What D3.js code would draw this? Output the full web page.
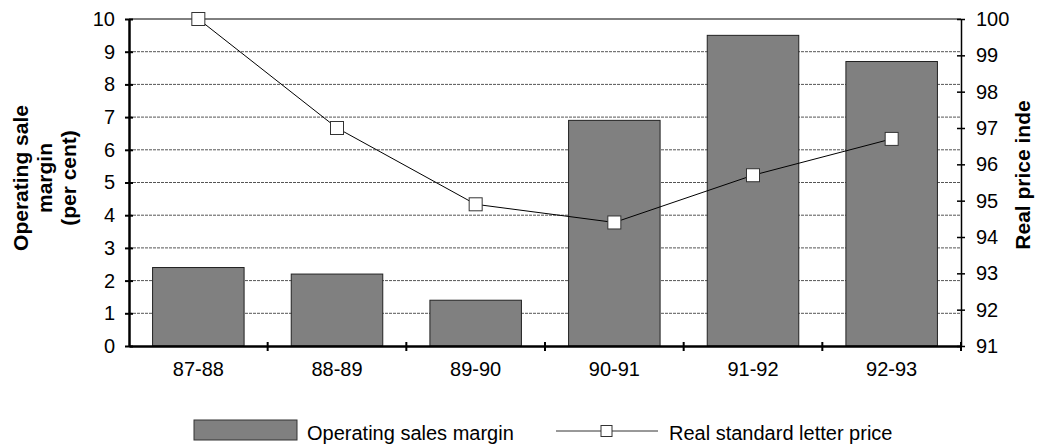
<!DOCTYPE html>
<html>
<head>
<meta charset="utf-8">
<script src="https://cdn.jsdelivr.net/npm/d3@7"></script>
<style>
  body { margin: 0; background: #fff; }
  svg { font-family: "Liberation Sans", Arial, sans-serif; }
</style>
</head>
<body>
<svg id="chart" width="1043" height="448"></svg>
<script>
// data
const years = ["87-88", "88-89", "89-90", "90-91", "91-92", "92-93"];
const margin = [2.4, 2.2, 1.4, 6.9, 9.5, 8.7];
const letterPrice = [100, 97, 94.9, 94.4, 95.7, 96.7];
const leftTicks = [0, 1, 2, 3, 4, 5, 6, 7, 8, 9, 10];
const rightTicks = [91, 92, 93, 94, 95, 96, 97, 98, 99, 100];

const svg = d3.select('#chart');
const plotLeft = 129, plotRight = 961, plotTop = 19, plotBottom = 346;

const x = d3.scaleBand().domain(years).range([plotLeft, plotRight]).paddingInner(0.34).paddingOuter(0.17);
const xc = d3.scaleBand().domain(years).range([plotLeft, plotRight]);
const y = d3.scaleLinear().domain([0, 10]).range([plotBottom, plotTop]);
const y2 = d3.scaleLinear().domain([91, 100]).range([plotBottom, plotTop]);

// gridlines
svg.append('g').selectAll('line')
    .data(leftTicks.filter(d => d > 0 && d < 10))
    .join('line')
    .attr('x1', plotLeft).attr('x2', plotRight)
    .attr('y1', d => y(d)).attr('y2', d => y(d))
    .attr('stroke', '#555').attr('stroke-width', 1)
    .attr('stroke-dasharray', '3,1');

// top border
svg.append('line')
    .attr('x1', plotLeft).attr('x2', plotRight)
    .attr('y1', y(10)).attr('y2', y(10))
    .attr('stroke', '#000').attr('stroke-width', 1);

// bars
svg.append('g').selectAll('rect')
    .data(margin)
    .join('rect')
    .attr('x', (d, i) => x(years[i]))
    .attr('y', d => y(d))
    .attr('width', x.bandwidth())
    .attr('height', d => y(0) - y(d))
    .attr('fill', '#808080')
    .attr('stroke', '#222')
    .attr('stroke-width', 1);

// left axis
const leftAxis = d3.axisLeft(y).tickValues(leftTicks).tickSize(0).tickPadding(14);
const gl = svg.append('g').attr('transform', `translate(${plotLeft},0)`).call(leftAxis);
gl.select('.domain').attr('stroke', '#000').attr('stroke-width', 2.5);
gl.selectAll('text').attr('font-size', 20).attr('fill', '#000');
gl.selectAll('.tick').append('line').attr('x1', -4).attr('x2', 4).attr('stroke', '#000').attr('stroke-width', 2);

// right axis
const rightAxis = d3.axisRight(y2).tickValues(rightTicks).tickSize(0).tickPadding(15);
const gr = svg.append('g').attr('transform', `translate(${plotRight},0)`).call(rightAxis);
gr.select('.domain').attr('stroke', '#000').attr('stroke-width', 1.5);
gr.selectAll('text').attr('font-size', 20).attr('fill', '#000');
gr.selectAll('.tick').append('line').attr('x1', -4).attr('x2', 4).attr('stroke', '#000').attr('stroke-width', 1.5);

// bottom axis
const bottomAxis = d3.axisBottom(xc).tickSize(0).tickPadding(16);
const gb = svg.append('g').attr('transform', `translate(0,${plotBottom})`).call(bottomAxis);
gb.select('.domain').attr('stroke', '#000').attr('stroke-width', 2.5);
gb.selectAll('text').attr('font-size', 20).attr('fill', '#000');
gb.selectAll('.sep')
    .data(years.slice(1).concat(['end']))
    .join('line')
    .attr('x1', (d, i) => plotLeft + xc.step() * (i + 1))
    .attr('x2', (d, i) => plotLeft + xc.step() * (i + 1))
    .attr('y1', -4).attr('y2', 5)
    .attr('stroke', '#000').attr('stroke-width', 2);

// line series
const line = d3.line()
    .x((d, i) => xc(years[i]) + xc.bandwidth() / 2)
    .y(d => y2(d));
svg.append('path')
    .datum(letterPrice)
    .attr('d', line)
    .attr('fill', 'none')
    .attr('stroke', '#000')
    .attr('stroke-width', 1);
svg.append('g').selectAll('rect')
    .data(letterPrice)
    .join('rect')
    .attr('x', (d, i) => xc(years[i]) + xc.bandwidth() / 2 - 6.5)
    .attr('y', d => y2(d) - 6.5)
    .attr('width', 13).attr('height', 13)
    .attr('fill', '#fff')
    .attr('stroke', '#333')
    .attr('stroke-width', 1);

// axis titles
const lt = svg.append('text')
    .attr('transform', 'translate(28,178) rotate(-90)')
    .attr('text-anchor', 'middle')
    .attr('font-size', 21).attr('font-weight', 'bold');
['Operating sale', 'margin', '(per cent)'].forEach((s, i) => {
    lt.append('tspan').attr('x', 0).attr('dy', i === 0 ? 0 : 24).text(s);
});
svg.append('text')
    .attr('transform', 'translate(1030,175) rotate(-90)')
    .attr('text-anchor', 'middle')
    .attr('font-size', 21).attr('font-weight', 'bold')
    .text('Real price inde');

// legend
const lg = svg.append('g');
lg.append('rect').attr('x', 194).attr('y', 420).attr('width', 103).attr('height', 20)
    .attr('fill', '#808080').attr('stroke', '#333');
lg.append('text').attr('x', 307).attr('y', 440).attr('font-size', 20).text('Operating sales margin');
lg.append('line').attr('x1', 556).attr('x2', 658).attr('y1', 431).attr('y2', 431)
    .attr('stroke', '#333').attr('stroke-width', 1);
lg.append('rect').attr('x', 601).attr('y', 425.5).attr('width', 11).attr('height', 11)
    .attr('fill', '#fff').attr('stroke', '#333');
lg.append('text').attr('x', 669).attr('y', 440).attr('font-size', 20).text('Real standard letter price');
</script>
</body>
</html>
